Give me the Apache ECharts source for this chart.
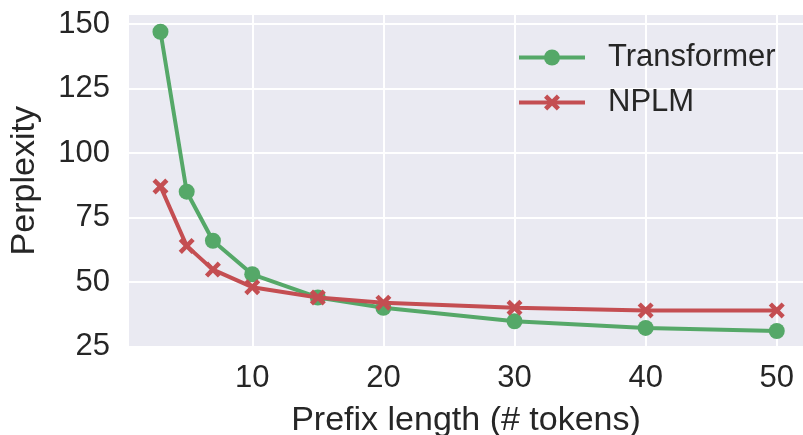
<!DOCTYPE html>
<html>
<head>
<meta charset="utf-8">
<script src="https://cdn.jsdelivr.net/npm/echarts@6/dist/echarts.min.js"></script>
<style>
html,body{margin:0;padding:0;background:#fff;}
#c{width:803px;height:435px;}
</style>
</head>
<body>
<div id="c"></div>
<script>
const prefixLengths = [3, 5, 7, 10, 15, 20, 30, 40, 50];
const transformerPpl = [147, 85, 66, 53, 44, 40, 34.8, 32.2, 31];
const nplmPpl = [87, 64, 54.8, 48, 44, 42, 40, 39, 39];
const xTicks = [10, 20, 30, 40, 50];
const yTicks = [25, 50, 75, 100, 125, 150];
const seriesNames = ['Transformer', 'NPLM'];

const xMarker = 'path://M2,0 L5,3 L8,0 L10,2 L7,5 L10,8 L8,10 L5,7 L2,10 L0,8 L3,5 L0,2 Z';
const textColor = '#262626';
const font = 'Liberation Sans, Arial, sans-serif';

function pairs(xs, ys) { return xs.map((x, i) => [x, ys[i]]); }

const chart = echarts.init(document.getElementById('c'), null, {renderer: 'canvas'});
chart.setOption({
  animation: false,
  grid: {left: 129, top: 15, right: 0, bottom: 88.5, show: true, backgroundColor: '#eaeaf2', borderWidth: 0,
         containLabel: false, outerBoundsMode: 'none'},
  legend: {
    orient: 'vertical',
    left: 517, top: 42, padding: 0,
    itemWidth: 66, itemHeight: 20, itemGap: 14,
    lineStyle: {width: 4},
    textStyle: {fontSize: 31, fontFamily: font, color: textColor, padding: [0, 0, 0, 18], lineHeight: 31},
    data: seriesNames
  },
  xAxis: {
    type: 'value', min: 0.6, max: 52,
    name: 'Prefix length (# tokens)', nameLocation: 'middle', nameGap: 57,
    nameTextStyle: {fontSize: 34, fontFamily: font, color: textColor},
    axisLine: {show: false},
    axisTick: {show: false, customValues: xTicks},
    axisLabel: {customValues: xTicks, fontSize: 31, fontFamily: font, color: textColor, margin: 16},
    splitLine: {show: true, lineStyle: {color: '#ffffff', width: 2}}
  },
  yAxis: {
    type: 'value', min: 25, max: 153.5,
    name: 'Perplexity', nameLocation: 'middle', nameGap: 87,
    nameTextStyle: {fontSize: 34, fontFamily: font, color: textColor},
    axisLine: {show: false},
    axisTick: {show: false, customValues: yTicks},
    axisLabel: {customValues: yTicks, fontSize: 31, fontFamily: font, color: textColor, margin: 19},
    splitLine: {show: true, lineStyle: {color: '#ffffff', width: 2}}
  },
  series: [
    {
      name: seriesNames[0], type: 'line', data: pairs(prefixLengths, transformerPpl),
      symbol: 'circle', symbolSize: 16,
      lineStyle: {color: '#55a868', width: 4}, itemStyle: {color: '#55a868'},
      emphasis: {disabled: true}, z: 2
    },
    {
      name: seriesNames[1], type: 'line', data: pairs(prefixLengths, nplmPpl),
      symbol: xMarker, symbolSize: 16,
      lineStyle: {color: '#c44e52', width: 4}, itemStyle: {color: '#c44e52'},
      emphasis: {disabled: true}, z: 3
    }
  ]
});
</script>
</body>
</html>
